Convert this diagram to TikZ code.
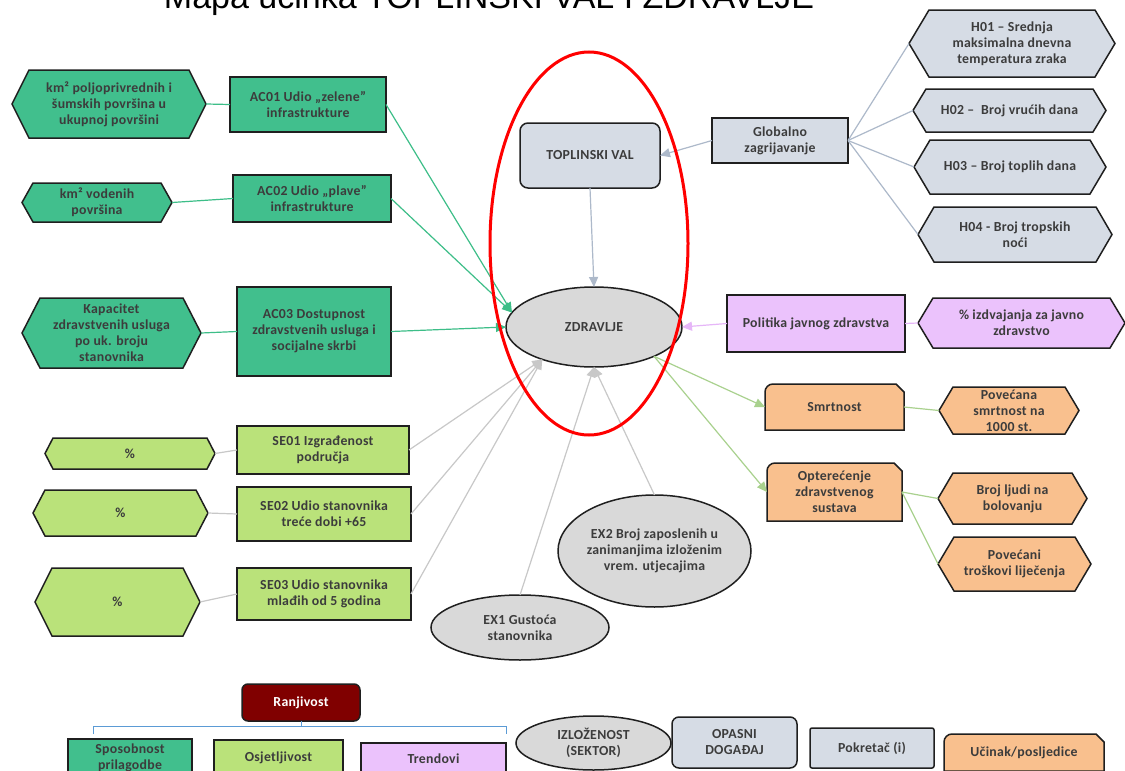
\documentclass[tikz,border=0pt]{standalone}
\usepackage{fontspec}
\setmainfont{Carlito}[LetterSpace=2]
\newfontfamily\titlefont{Liberation Sans}
\usetikzlibrary{shapes.geometric,arrows.meta}
\definecolor{acg}{HTML}{41BF8D}
\definecolor{seg}{HTML}{BAE27A}
\definecolor{pur}{HTML}{EBC2FC}
\definecolor{orn}{HTML}{F9C08E}
\definecolor{gry}{HTML}{D9D9D9}
\definecolor{bgr}{HTML}{D6DCE5}
\definecolor{drd}{HTML}{800000}
\definecolor{txtc}{HTML}{3C3C3C}
\definecolor{bordc}{HTML}{1F1F1F}
\definecolor{lac}{HTML}{3DBE88}
\definecolor{lgy}{HTML}{C8C8C8}
\definecolor{lbg}{HTML}{ADB9CA}
\definecolor{lpu}{HTML}{E6B6F8}
\definecolor{lgr}{HTML}{A9D18E}
\definecolor{brk}{HTML}{5B9BD5}
\tikzset{
  txt/.style={font=\bfseries\fontsize{13.8}{16}\selectfont, text=txtc, align=center, inner sep=0pt, outer sep=0pt},
  bx/.style={draw=bordc, line width=1.5pt},
  rect/.style={txt, bx, rectangle},
  ell/.style={txt, bx, ellipse},
  conn/.style={line width=1.2pt},
  arr/.style={-{Triangle[length=10pt,width=9pt]}},
}
% hexagon: name, cx, cy, w, h, inset, fill, text
\newcommand\hexnode[8]{%
  \draw[bx,fill=#7] (#2-#4/2,#3) -- (#2-#4/2+#6,#3-#5/2) -- (#2+#4/2-#6,#3-#5/2)
     -- (#2+#4/2,#3) -- (#2+#4/2-#6,#3+#5/2) -- (#2-#4/2+#6,#3+#5/2) -- cycle;
  \node[txt,minimum width=#4,minimum height=#5] (#1) at (#2,#3) {#8};}
% snip-round rectangle: name, cx, cy, w, h, text
\newcommand\snipnode[6]{%
  \draw[bx,fill=orn] (#2-#4/2,#3+#5/2) -- (#2-#4/2,#3-#5/2+8)
     arc[start angle=180,end angle=90,radius=8pt] -- (#2+#4/2-8,#3-#5/2)
     -- (#2+#4/2,#3-#5/2+8) -- (#2+#4/2,#3+#5/2) -- cycle;
  \node[txt,minimum width=#4,minimum height=#5] (#1) at (#2,#3) {#6};}
\begin{document}
\begin{tikzpicture}[x=1pt,y=-1pt]
\useasboundingbox (0,0) rectangle (1125,771);
\clip (0,0) rectangle (1125,771);
\fill[white] (0,0) rectangle (1125,771);

\node[font=\titlefont\fontsize{34}{34}\selectfont, anchor=base, inner sep=0pt] (title) at (489,9) {Mapa učinka TOPLINSKI VAL I ZDRAVLJE};

% left: adaptive capacity
\hexnode{h1}{109}{104}{194}{68}{17}{acg}{km² poljoprivrednih i\\šumskih površina u\\ukupnoj površini}
\node[rect, fill=acg, minimum width=156, minimum height=55] (ac1) at (308,104.5) {AC01 Udio „zelene”\\infrastrukture};
\hexnode{h2}{97}{202.5}{150}{39}{11}{acg}{km² vodenih\\površina}
\node[rect, fill=acg, minimum width=158, minimum height=47] (ac2) at (312,198.5) {AC02 Udio „plave”\\infrastrukture};
\hexnode{h3}{111.5}{333}{179}{70}{18}{acg}{Kapacitet\\zdravstvenih usluga\\po uk. broju\\stanovnika}
\node[rect, fill=acg, minimum width=154, minimum height=89] (ac3) at (314,331.5) {AC03 Dostupnost\\zdravstvenih usluga i\\socijalne skrbi};

% left: sensitivity
\hexnode{p1}{130}{453.5}{170}{31}{8}{seg}{\%}
\node[rect, fill=seg, minimum width=172, minimum height=48] (se1) at (323,450) {SE01 Izgrađenost\\područja};
\hexnode{p2}{120.5}{513}{175}{46}{12}{seg}{\%}
\node[rect, fill=seg, minimum width=174, minimum height=54] (se2) at (324,514) {SE02 Udio stanovnika\\treće dobi +65};
\hexnode{p3}{117.5}{602}{165}{68}{17}{seg}{\%}
\node[rect, fill=seg, minimum width=174, minimum height=52] (se3) at (324,594) {SE03 Udio stanovnika\\mlađih od 5 godina};

% exposure
\node[ell, fill=gry, minimum width=178, minimum height=65] (ex1) at (520,627.5) {EX1 Gustoća\\stanovnika};
\node[ell, fill=gry, minimum width=193, minimum height=112] (ex2) at (654.5,551) {EX2 Broj zaposlenih u\\zanimanjima izloženim\\vrem. utjecajima};

% centre
\node[ell, fill=gry, minimum width=176, minimum height=80] (z) at (594,327) {ZDRAVLJE};
\node[rect, fill=bgr, rounded corners=8pt, minimum width=140, minimum height=65] (tv) at (590,155.5) {TOPLINSKI VAL};

% drivers
\node[rect, fill=bgr, minimum width=136, minimum height=45] (gz) at (780,140.5) {Globalno\\zagrijavanje};
\hexnode{hh1}{1012}{43.5}{206}{67}{20}{bgr}{H01 – Srednja\\maksimalna dnevna\\temperatura zraka}
\hexnode{hh2}{1009.5}{110.5}{193}{43}{13}{bgr}{H02 –\ \ Broj vrućih dana}
\hexnode{hh3}{1010}{167}{192}{54}{16}{bgr}{H03 – Broj toplih dana}
\hexnode{hh4}{1015}{234.5}{194}{55}{16}{bgr}{H04 - Broj tropskih\\noći}

% trends
\node[rect, fill=pur, minimum width=178, minimum height=57] (pol) at (816,323.5) {Politika javnog zdravstva};
\hexnode{izd}{1021.5}{323}{207}{50}{15}{pur}{\% izdvajanja za javno\\zdravstvo}

% impacts
\snipnode{smr}{834.5}{407}{139}{46}{Smrtnost}
\snipnode{opt}{834.5}{492}{135}{58}{Opterećenje\\zdravstvenog\\sustava}
\hexnode{pov}{1009}{410.5}{140}{47}{14}{orn}{Povećana\\smrtnost na\\1000 st.}
\hexnode{bol}{1012.5}{498.5}{149}{51}{15}{orn}{Broj ljudi na\\bolovanju}
\hexnode{tro}{1014.5}{564}{153}{54}{16}{orn}{Povećani\\troškovi liječenja}

% connectors
\draw[conn, lac] (h1.east) -- (ac1.west);
\draw[conn, lac] (h2.east) -- (ac2.west);
\draw[conn, lac] (h3.east) -- (ac3.west);
\draw[conn, lac, arr] (ac1.east) -- (z.170);
\draw[conn, lac, arr] (ac2.east) -- (z.170);
\draw[conn, lac, arr] (ac3.east) -- (z.west);

\draw[conn, lgy] (p1.east) -- (se1.west);
\draw[conn, lgy] (p2.east) -- (se2.west);
\draw[conn, lgy] (p3.east) -- (se3.west);
\draw[conn, lgy, arr] (se1.east) -- (z.212);
\draw[conn, lgy, arr] (se2.east) -- (z.212);
\draw[conn, lgy, arr] (se3.east) -- (z.212);
\draw[conn, lgy, arr] (ex1.north) -- (z.south);
\draw[conn, lgy, arr] (ex2.north) -- (z.south);

\draw[conn, lbg, arr] (tv.south) -- (z.north);
\draw[conn, lbg, arr] (gz.west) -- (tv.east);
\draw[conn, lbg] (gz.east) -- (hh1.west);
\draw[conn, lbg] (gz.east) -- (hh2.west);
\draw[conn, lbg] (gz.east) -- (hh3.west);
\draw[conn, lbg] (gz.east) -- (hh4.west);

\draw[conn, lpu] (izd.west) -- (pol.east);
\draw[conn, lpu, arr] (pol.west) -- (z.east);

\draw[conn, lgr, arr] (z.-26) -- (smr.west);
\draw[conn, lgr, arr] (z.-26) -- (opt.west);
\draw[conn, lgr] (smr.east) -- (pov.west);
\draw[conn, lgr] (opt.east) -- (bol.west);
\draw[conn, lgr] (opt.east) -- (tro.west);

% red highlight
\node[draw=red, line width=3pt, ellipse, minimum width=198, minimum height=383, inner sep=0pt] (hl) at (589,243.5) {};

% legend
\node[rect, fill=drd, text=white, rounded corners=6pt, minimum width=118, minimum height=37] (ranj) at (301,702.5) {Ranjivost};
\coordinate (bm) at (301,726);
\coordinate (bl) at (93,734);
\coordinate (br) at (506,734);
\draw[brk, line width=1pt] (bl) -- (bl |- bm) -- (br |- bm) -- (br);
\draw[brk, line width=1pt] (ranj.south) -- (bm);
\node[rect, fill=acg, minimum width=124, minimum height=37] (lsp) at (130,757.5) {Sposobnost\\prilagodbe};
\node[rect, fill=seg, minimum width=129, minimum height=36] (los) at (278.5,758) {Osjetljivost};
\node[rect, fill=pur, minimum width=145, minimum height=32] (ltr) at (433.5,759) {Trendovi};
\node[ell, fill=gry, minimum width=155, minimum height=54] (liz) at (593.5,743) {IZLOŽENOST\\(SEKTOR)};
\node[rect, fill=bgr, rounded corners=7pt, minimum width=125, minimum height=51] (lop) at (734.5,742.5) {OPASNI\\DOGAĐAJ};
\node[rect, fill=bgr, rounded corners=2pt, minimum width=124, minimum height=40] (lpo) at (872,748) {Pokretač (i)};
\snipnode{luc}{1024}{752.5}{160}{37}{Učinak/posljedice}
\end{tikzpicture}
\end{document}
